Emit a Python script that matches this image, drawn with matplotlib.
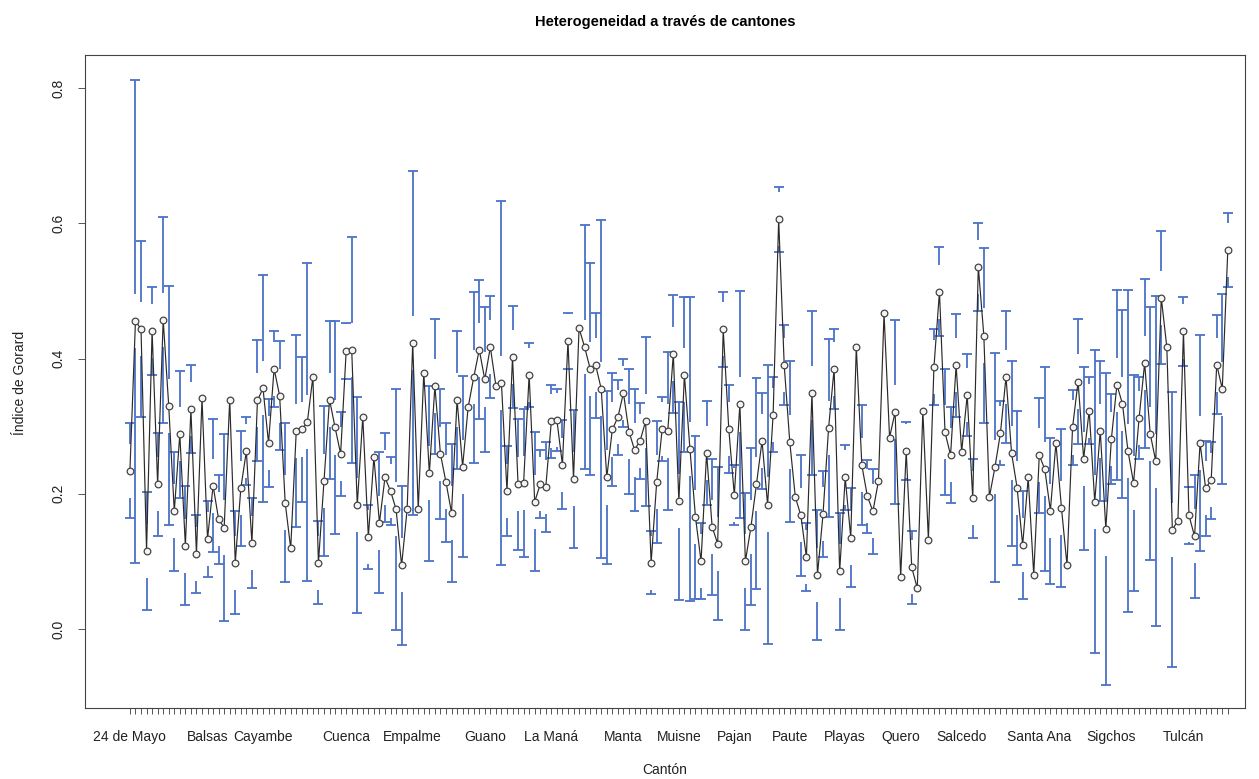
import numpy as np
import matplotlib
matplotlib.use("Agg")
import matplotlib.pyplot as plt

plt.rcParams['font.family'] = ['Liberation Sans', 'DejaVu Sans']

# Gorard index by canton (mean) and half width of the confidence interval
gorard = [
    0.234, 0.455, 0.444, 0.115, 0.441, 0.214, 0.457, 0.330, 0.174, 0.288,
    0.123, 0.325, 0.111, 0.341, 0.133, 0.212, 0.162, 0.150, 0.339, 0.098,
    0.208, 0.263, 0.127, 0.338, 0.356, 0.275, 0.385, 0.345, 0.187, 0.119,
    0.293, 0.295, 0.306, 0.373, 0.098, 0.219, 0.339, 0.298, 0.259, 0.411,
    0.413, 0.183, 0.314, 0.136, 0.254, 0.157, 0.224, 0.204, 0.177, 0.094,
    0.177, 0.423, 0.177, 0.379, 0.230, 0.359, 0.259, 0.217, 0.172, 0.339,
    0.240, 0.328, 0.372, 0.413, 0.369, 0.417, 0.360, 0.364, 0.204, 0.402,
    0.214, 0.216, 0.376, 0.188, 0.214, 0.210, 0.307, 0.309, 0.243, 0.426,
    0.222, 0.445, 0.417, 0.385, 0.390, 0.355, 0.224, 0.295, 0.313, 0.349,
    0.292, 0.265, 0.278, 0.307, 0.098, 0.217, 0.296, 0.293, 0.407, 0.189,
    0.376, 0.266, 0.165, 0.100, 0.260, 0.151, 0.126, 0.443, 0.296, 0.198,
    0.332, 0.100, 0.151, 0.215, 0.278, 0.184, 0.317, 0.606, 0.390, 0.277,
    0.195, 0.168, 0.106, 0.349, 0.080, 0.170, 0.297, 0.385, 0.085, 0.224,
    0.135, 0.417, 0.242, 0.196, 0.174, 0.219, 0.467, 0.283, 0.321, 0.077,
    0.263, 0.091, 0.060, 0.323, 0.132, 0.387, 0.499, 0.291, 0.257, 0.390,
    0.262, 0.346, 0.193, 0.536, 0.434, 0.195, 0.239, 0.290, 0.373, 0.260,
    0.209, 0.124, 0.224, 0.080, 0.257, 0.236, 0.175, 0.275, 0.179, 0.094,
    0.298, 0.366, 0.252, 0.323, 0.188, 0.293, 0.148, 0.281, 0.361, 0.333,
    0.263, 0.216, 0.312, 0.393, 0.289, 0.248, 0.490, 0.417, 0.147, 0.160,
    0.440, 0.168, 0.137, 0.275, 0.208, 0.220, 0.391, 0.355, 0.561,
]
half_ci = [
    0.070, 0.357, 0.130, 0.087, 0.065, 0.076, 0.153, 0.177, 0.088, 0.094,
    0.088, 0.065, 0.058, 0.030, 0.056, 0.098, 0.066, 0.139, 0.039, 0.076,
    0.085, 0.050, 0.066, 0.090, 0.168, 0.065, 0.056, 0.081, 0.117, 0.030,
    0.142, 0.107, 0.235, 0.020, 0.061, 0.111, 0.117, 0.157, 0.062, 0.041,
    0.167, 0.160, 0.030, 0.047, 0.030, 0.104, 0.066, 0.050, 0.178, 0.118,
    0.030, 0.255, 0.030, 0.040, 0.130, 0.100, 0.096, 0.088, 0.102, 0.102,
    0.134, 0.030, 0.126, 0.103, 0.107, 0.075, 0.030, 0.269, 0.066, 0.075,
    0.097, 0.110, 0.047, 0.103, 0.050, 0.066, 0.054, 0.046, 0.066, 0.041,
    0.102, 0.030, 0.180, 0.157, 0.078, 0.250, 0.128, 0.083, 0.055, 0.050,
    0.092, 0.090, 0.056, 0.125, 0.047, 0.090, 0.047, 0.117, 0.087, 0.146,
    0.115, 0.225, 0.121, 0.056, 0.077, 0.101, 0.113, 0.055, 0.065, 0.044,
    0.168, 0.101, 0.116, 0.156, 0.071, 0.206, 0.056, 0.048, 0.059, 0.119,
    0.030, 0.089, 0.050, 0.121, 0.096, 0.064, 0.132, 0.059, 0.086, 0.048,
    0.073, 0.030, 0.089, 0.054, 0.063, 0.030, 0.030, 0.030, 0.136, 0.030,
    0.043, 0.054, 0.030, 0.030, 0.030, 0.056, 0.066, 0.093, 0.071, 0.076,
    0.040, 0.060, 0.058, 0.065, 0.129, 0.030, 0.169, 0.047, 0.098, 0.137,
    0.114, 0.080, 0.030, 0.030, 0.085, 0.151, 0.108, 0.030, 0.117, 0.030,
    0.056, 0.093, 0.136, 0.050, 0.224, 0.104, 0.231, 0.066, 0.140, 0.139,
    0.238, 0.160, 0.060, 0.125, 0.187, 0.244, 0.098, 0.030, 0.204, 0.030,
    0.051, 0.042, 0.091, 0.160, 0.070, 0.057, 0.073, 0.141, 0.055,
]
# only the canton names that R managed to print on the axis
shown_labels = ['24 de Mayo', 'Balsas', 'Cayambe', 'Cuenca', 'Empalme', 'Guano',
                'La Maná', 'Manta', 'Muisne', 'Pajan', 'Paute', 'Playas', 'Quero',
                'Salcedo', 'Santa Ana', 'Sigchos', 'Tulcán']
shown_index = [0, 14, 24, 39, 51, 64, 76, 89, 99, 109, 119, 129, 139, 150, 164, 177, 190]

y = np.array(gorard)
h = np.array(half_ci)
x = np.arange(len(y))
lo = y - h
hi = y + h

fig = plt.figure(figsize=(12.59, 7.79), dpi=100)
ax = fig.add_axes([85 / 1259, 1 - 708 / 779, 1160 / 1259, 653 / 779])

# plotCI style: bars leave a gap around the point, short ones are skipped
gap = 0.04
cap = 0.9
bar_col = '#4a72c8'
for xi, yi, l, u in zip(x, y, lo, hi):
    if u - yi <= gap:
        continue
    ax.vlines(xi, yi + gap, u, color=bar_col, lw=1.3)
    ax.vlines(xi, l, yi - gap, color=bar_col, lw=1.3)
    ax.hlines([l, u], xi - cap, xi + cap, color=bar_col, lw=1.3)

ax.plot(x, y, color='#2a2a2a', lw=0.85, zorder=3)
ax.plot(x, y, 'o', ms=4.8, mfc='#f4f4f4', mec='#444444', mew=0.9, zorder=4)

ax.set_xlim(-8.1, 201.1)
ax.set_ylim(-0.117, 0.849)

labels = [''] * len(y)
for name, i in zip(shown_labels, shown_index):
    labels[i] = name
ax.set_xticks(x)
ax.set_xticklabels(labels, fontsize=10, color='#222222')
ax.tick_params(axis='x', length=4.5, width=0.7, pad=11, colors='#555555', labelcolor='#222222')

ax.set_yticks([0.0, 0.2, 0.4, 0.6, 0.8])
ax.set_yticklabels(['0.0', '0.2', '0.4', '0.6', '0.8'], rotation=90, va='center', fontsize=10)
ax.tick_params(axis='y', length=5, width=0.7, pad=9, colors='#555555', labelcolor='#222222')

for s in ax.spines.values():
    s.set_color('#444444')
    s.set_linewidth(0.8)

fig.text(665 / 1259, 1 - 22 / 779, 'Heterogeneidad a través de cantones', ha='center', va='center',
         fontsize=10.5, fontweight='bold')
fig.text(665 / 1259, 1 - 770 / 779, 'Cantón', ha='center', va='center', fontsize=10, color='#222222')
fig.text(20 / 1259, 1 - 383 / 779, 'Índice de Gorard', ha='center', va='center', rotation=90,
         fontsize=10, color='#222222')

fig.savefig('out.png', dpi=100)
